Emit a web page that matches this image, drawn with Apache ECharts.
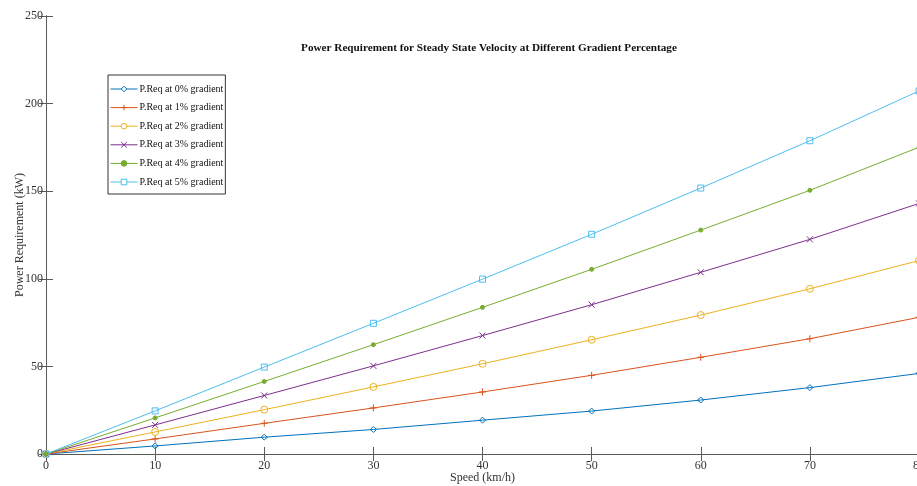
<!DOCTYPE html>
<html><head><meta charset="utf-8">
<script src="https://cdn.jsdelivr.net/npm/echarts@6/dist/echarts.min.js"></script>
<style>html,body{margin:0;padding:0;background:#fff}#c{width:917px;height:486px}</style>
</head><body><div id="c"></div>
<script>
const speeds = [0, 10, 20, 30, 40, 50, 60, 70, 80];
const seriesNames = ['P.Req at 0% gradient','P.Req at 1% gradient','P.Req at 2% gradient','P.Req at 3% gradient','P.Req at 4% gradient','P.Req at 5% gradient'];
const p0 = [0, 4.6, 9.6, 14, 19.3, 24.5, 30.8, 37.9, 46];
const p1 = [0, 8.6, 17.5, 26.3, 35.4, 44.9, 55.2, 65.8, 78];
const p2 = [0, 12.6, 25.3, 38.3, 51.5, 65.2, 79.3, 94.3, 110.4];
const p3 = [0, 16.6, 33.4, 50.3, 67.6, 85.2, 103.7, 122.5, 143];
const p4 = [0, 20.6, 41.4, 62.4, 83.7, 105.4, 127.8, 150.5, 175.1];
const p5 = [0, 24.6, 49.6, 74.6, 99.8, 125.4, 151.8, 178.8, 207.2];
const allSeries = [p0, p1, p2, p3, p4, p5];

const colors = ['#0072BD','#D95319','#EDB120','#7E2F8E','#77AC30','#4DBEEE'];
const symbols = [
  'diamond',
  'path://M5,0L5,10M0,5L10,5',
  'circle',
  'path://M0,0L10,10M10,0L0,10',
  'circle',
  'rect'
];
const symSizes = [6, 7, 7, 6, 4, 6];
const font = '"Liberation Serif", "Times New Roman", serif';
const axisCol = '#5a5a5a';

const chart = echarts.init(document.getElementById('c'), null, {renderer: 'canvas'});
const series = allSeries.map((vals, i) => ({
  name: seriesNames[i],
  type: 'line',
  xAxisIndex: 0, yAxisIndex: 0,
  data: speeds.map((s, k) => [s, vals[k]]),
  symbol: symbols[i],
  symbolSize: symSizes[i],
  showAllSymbol: true,
  lineStyle: {color: colors[i], width: 1},
  itemStyle: {color: i === 4 ? colors[i] : 'rgba(255,255,255,0)', borderColor: colors[i], borderWidth: 1},
  emphasis: {disabled: true},
  animation: false,
  z: 3
}));

const legendData = seriesNames.map((n, i) => ({
  name: n,
  itemStyle: {color: i === 4 ? colors[i] : '#fff', borderColor: colors[i], borderWidth: 1},
  lineStyle: {color: colors[i], width: 1}
}));

const yCommon = {type: 'value', min: 0, max: 250, interval: 50, splitLine: {show: false}};
const xCommon = {type: 'value', min: 0, max: 80, interval: 10, splitLine: {show: false}};

chart.setOption({
  animation: false,
  backgroundColor: '#fff',
  title: {
    text: 'Power Requirement for Steady State Velocity at Different Gradient Percentage',
    left: 484, top: 38, textAlign: 'center',
    textStyle: {fontFamily: font, fontSize: 11.2, fontWeight: 'bold', color: '#111'}
  },
  grid: {left: 46, top: 16, right: -2, bottom: 32, containLabel: false, outerBoundsMode: 'none'},
  legend: {
    orient: 'vertical', left: 108, top: 75,
    data: legendData,
    backgroundColor: '#fff', borderColor: '#333', borderWidth: 1,
    padding: [9, 2, 7, 2], itemGap: 8.6, itemWidth: 27, itemHeight: 7,
    lineStyle: {width: 1},
    itemStyle: {borderWidth: 1},
    textStyle: {fontFamily: font, fontSize: 10, color: '#111', padding: [0, 0, 0, -3]}
  },
  xAxis: [
    Object.assign({}, xCommon, {
      position: 'bottom',
      name: 'Speed (km/h)', nameLocation: 'middle', nameGap: 18, nameMoveOverlap: false,
      nameTextStyle: {fontFamily: font, fontSize: 12, color: '#333'},
      axisLine: {lineStyle: {color: axisCol, width: 1}},
      axisTick: {inside: true, length: 7, lineStyle: {color: axisCol}},
      axisLabel: {fontFamily: font, fontSize: 12, color: '#333', margin: 6}
    }),
    Object.assign({}, xCommon, {
      position: 'top',
      axisLine: {lineStyle: {color: axisCol, width: 1}},
      axisTick: {inside: true, length: 7, lineStyle: {color: axisCol}},
      axisLabel: {show: false}
    })
  ],
  yAxis: [
    Object.assign({}, yCommon, {
      position: 'left',
      name: 'Power Requirement (kW)', nameLocation: 'middle', nameGap: 20, nameMoveOverlap: false,
      nameTextStyle: {fontFamily: font, fontSize: 12, color: '#333'},
      axisLine: {show: true, lineStyle: {color: axisCol, width: 1}},
      axisTick: {show: true, inside: true, length: 7, lineStyle: {color: axisCol}},
      axisLabel: {fontFamily: font, fontSize: 12, color: '#333', margin: 3}
    }),
    Object.assign({}, yCommon, {
      position: 'right',
      axisLine: {show: true, lineStyle: {color: axisCol, width: 1}},
      axisTick: {show: true, inside: true, length: 7, lineStyle: {color: axisCol}},
      axisLabel: {show: false}
    })
  ],
  series: series
});
</script></body></html>
